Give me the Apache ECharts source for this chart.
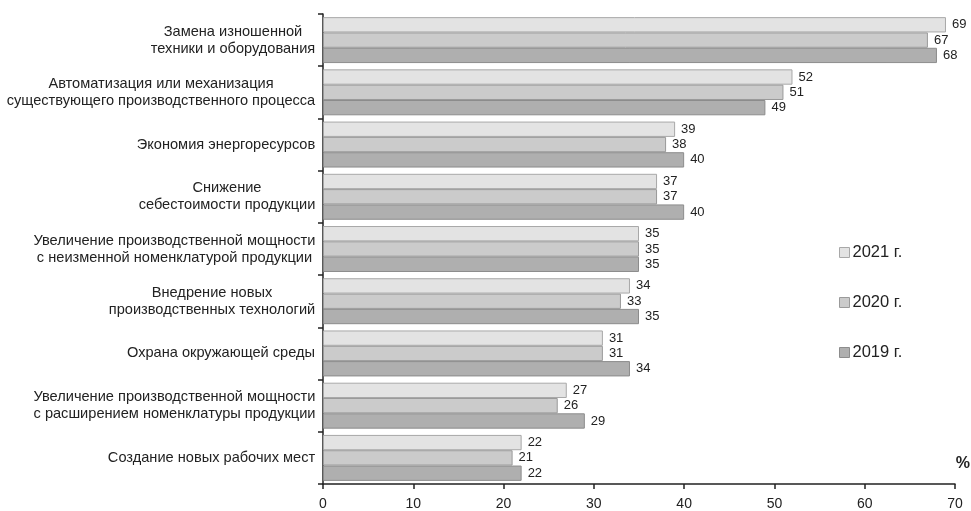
<!DOCTYPE html>
<html>
<head>
<meta charset="utf-8">
<script src="https://cdn.jsdelivr.net/npm/echarts@6/dist/echarts.min.js"></script>
<style>html,body{margin:0;padding:0;background:#fff}#c{width:971px;height:511px}</style>
</head>
<body>
<div id="c"></div>
<script>
const categories = [
  "Замена изношенной\nтехники и оборудования",
  "Автоматизация или механизация\nсуществующего производственного процесса",
  "Экономия энергоресурсов",
  "Снижение\nсебестоимости продукции",
  "Увеличение производственной мощности\nс неизменной номенклатурой продукции",
  "Внедрение новых\nпроизводственных технологий",
  "Охрана окружающей среды",
  "Увеличение производственной мощности\nс расширением номенклатуры продукции",
  "Создание новых рабочих мест"
];
const seriesNames = ["2021 г.", "2020 г.", "2019 г."];
const values2021 = [69, 52, 39, 37, 35, 34, 31, 27, 22];
const values2020 = [67, 51, 38, 37, 35, 33, 31, 26, 21];
const values2019 = [68, 49, 40, 40, 35, 35, 34, 29, 22];
const xTicks = [0, 10, 20, 30, 40, 50, 60, 70];

const FONT = "'Liberation Sans', Arial, sans-serif";
const LABEL_SIZE = 14.6;
const colors = ["#e3e3e3", "#cbcbcb", "#afafaf"];
const borders = ["#a8a8a8", "#9a9a9a", "#8c8c8c"];

const cv = document.createElement('canvas').getContext('2d');
cv.font = LABEL_SIZE + "px " + FONT;
const rich = {};
categories.forEach((c, i) => {
  const w = Math.max(...c.split('\n').map(l => cv.measureText(l).width));
  rich['c' + i] = { width: Math.ceil(w) + 1, align: 'center', fontSize: LABEL_SIZE, lineHeight: 17, color: '#222', fontFamily: FONT };
});

const chart = echarts.init(document.getElementById('c'));
const mk = (name, data, i) => ({
  name: name,
  type: 'bar',
  data: data,
  barGap: '0%',
  barCategoryGap: '12%',
  itemStyle: { color: colors[i], borderColor: borders[i], borderWidth: 1 },
  label: { show: true, position: 'right', distance: 6, fontSize: 13, color: '#222', fontFamily: FONT },
  animation: false
});
chart.setOption({
  animation: false,
  grid: { left: 323, right: 16, top: 14, bottom: 26, containLabel: false },
  legend: {
    orient: 'vertical', left: 834, top: 239, itemGap: 33,
    icon: 'rect', itemWidth: 10, itemHeight: 10,
    textStyle: { fontSize: 16.5, color: '#222', fontFamily: FONT, padding: [0, 0, 0, -2] },
    data: seriesNames.map((n, i) => ({ name: n, itemStyle: { color: colors[i], borderColor: borders[i], borderWidth: 1 } }))
  },
  xAxis: {
    type: 'value', min: xTicks[0], max: xTicks[xTicks.length - 1], interval: 10,
    splitLine: { show: false },
    axisLine: { show: true, lineStyle: { color: '#222', width: 1.5 } },
    axisTick: { show: true, length: 5, lineStyle: { color: '#222', width: 1.5 } },
    axisLabel: { fontSize: 14, color: '#222', margin: 13, fontFamily: FONT }
  },
  yAxis: {
    type: 'category', inverse: true, data: categories,
    axisLine: { show: true, lineStyle: { color: '#222', width: 1.5 } },
    axisTick: { show: true, length: 5, lineStyle: { color: '#222', width: 1.5 } },
    axisLabel: {
      margin: 7, fontFamily: FONT, fontSize: LABEL_SIZE, color: '#222',
      formatter: (v, idx) => v.split('\n').map(l => '{c' + idx + '|' + l + '}').join('\n'),
      rich: rich
    }
  },
  graphic: [{
    type: 'text', right: 1, top: 456,
    style: { text: '%', fontSize: 16, fontWeight: 'bold', fill: '#222', fontFamily: FONT }
  }],
  series: [mk(seriesNames[0], values2021, 0), mk(seriesNames[1], values2020, 1), mk(seriesNames[2], values2019, 2)]
});
</script>
</body>
</html>
